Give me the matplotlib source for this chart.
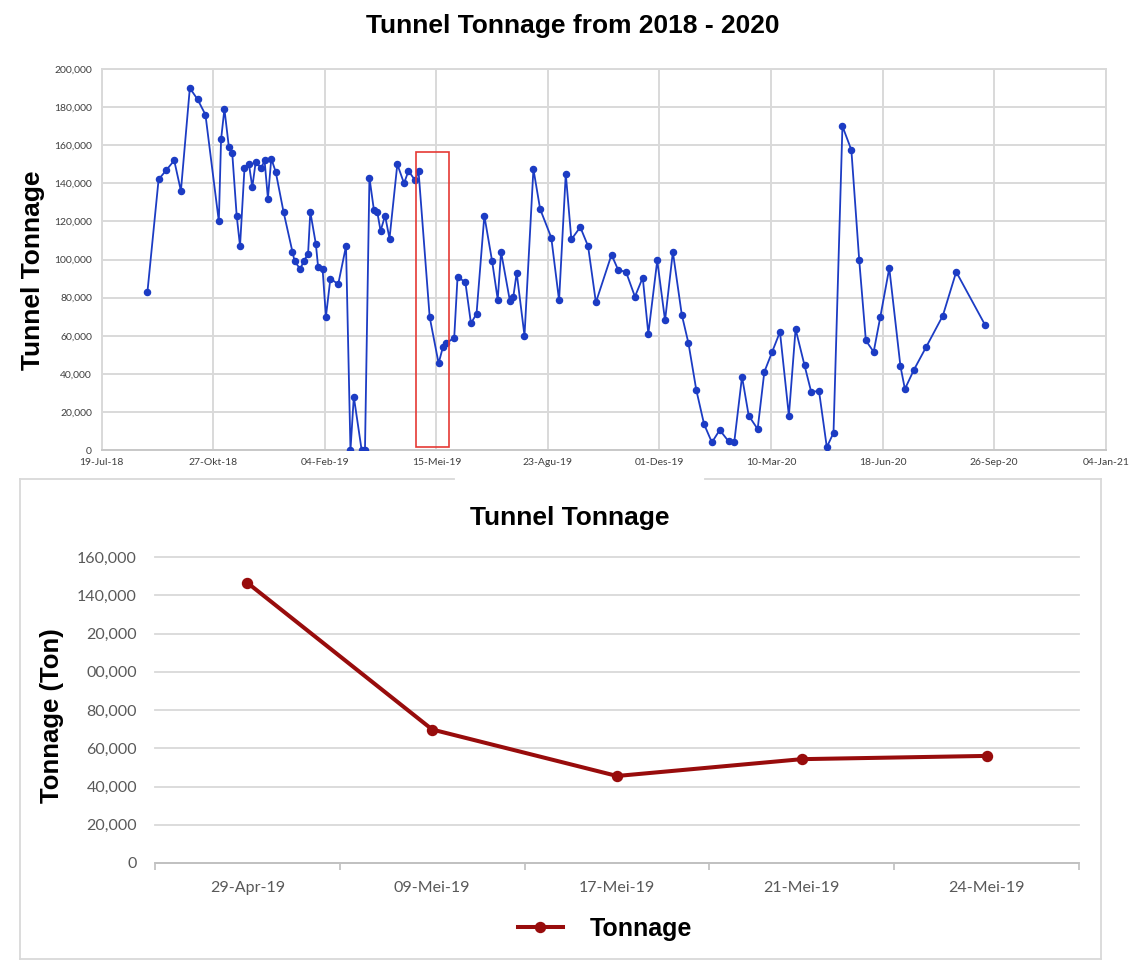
import pandas as pd
import numpy as np
import matplotlib
matplotlib.use("Agg")
import matplotlib.pyplot as plt
import matplotlib.dates as mdates
from matplotlib.ticker import FixedLocator, FixedFormatter, FuncFormatter, MultipleLocator
from matplotlib.patches import Rectangle
from matplotlib.lines import Line2D

# data grafik atas : hari sejak 19-Jul-18 dan tonase
mulai = pd.Timestamp("2018-07-19")
hari = [41, 51, 58, 65, 71, 79, 86, 93, 105, 107, 110, 114, 117, 121, 124, 128, 132, 135, 138, 143,
        146, 149, 152, 156, 163, 171, 173, 178, 181, 185, 187, 192, 194, 198, 201, 205, 212, 219, 223, 226,
        233, 236, 240, 244, 247, 250, 254, 258, 265, 271, 275, 281, 284, 294, 302, 306, 309, 316, 319, 326,
        331, 336, 343, 350, 355, 358, 366, 369, 372, 379, 387, 393, 403, 410, 416, 421, 429, 436, 443, 457,
        463, 470, 478, 485, 490, 498, 505, 512, 520, 526, 533, 540, 547, 554, 562, 567, 574, 580, 588, 594,
        601, 608, 616, 622, 630, 636, 643, 650, 656, 664, 672, 679, 685, 692, 698, 706, 716, 720, 728, 739,
        754, 766, 792]
tonase = [83000, 142000, 147000, 152000, 136000, 190000, 184000, 176000, 120000, 163000, 179000, 159000,
          156000, 123000, 107000, 148000, 150000, 138000, 151000, 148000, 152000, 132000, 153000, 146000,
          125000, 104000, 99000, 95000, 99000, 103000, 125000, 108000, 96000, 95000, 70000, 90000, 87000,
          107000, 0, 28000, 0, 0, 143000, 126000, 125000, 115000, 123000, 111000, 150000, 140000, 146500,
          141500, 146500, 69800, 45500, 54300, 56000, 59000, 91000, 88000, 66500, 71500, 123000, 99000,
          79000, 104000, 78000, 80500, 93000, 60000, 147500, 126500, 111500, 78500, 145000, 110500, 117000,
          107000, 77500, 102500, 94500, 93500, 80500, 90500, 61000, 99500, 68000, 104000, 71000, 56000,
          31500, 13500, 4000, 10500, 4500, 4000, 38500, 18000, 11000, 41000, 51500, 62000, 18000, 63500,
          44500, 30500, 31000, 1500, 9000, 170000, 157500, 100000, 57500, 51500, 70000, 95500, 44000, 32000,
          42000, 54000, 70500, 93500, 65500]

# data grafik bawah (detail 29 Apr - 24 Mei 2019)
detail_tgl = ["29-Apr-19", "09-Mei-19", "17-Mei-19", "21-Mei-19", "24-Mei-19"]
detail_tonase = [146500, 69800, 45500, 54300, 56000]
ylabel_bawah = ["0", "20,000", "40,000", "60,000", "80,000", "00,000", "20,000", "140,000", "160,000"]

bulan = {1: "Jan", 2: "Feb", 3: "Mar", 4: "Apr", 5: "Mei", 6: "Jun",
         7: "Jul", 8: "Agu", 9: "Sep", 10: "Okt", 11: "Nov", 12: "Des"}

biru, merah, abu = "#1c3cc4", "#980c0c", "#d9d9d9"
judul_font = ["Liberation Sans", "DejaVu Sans"]
tick_font = ["Lato", "DejaVu Sans"]

W, H = 1129, 976
def kotak(l, t, r, b):
    return [l / W, 1 - b / H, (r - l) / W, (b - t) / H]

fig = plt.figure(figsize=(W / 100, H / 100), dpi=100)

# ---- grafik atas
tgl = mulai + pd.to_timedelta(hari, unit="D")
ax1 = fig.add_axes(kotak(101.7, 69, 1105.7, 450))
ax1.plot(tgl.to_numpy(), tonase, color=biru, lw=1.3, marker="o", ms=4.4, zorder=3)
ax1.set_xlim(mulai, mulai + pd.Timedelta(days=900))
ax1.set_ylim(0, 200000)
ticks = mdates.date2num(pd.date_range(mulai, periods=10, freq="100D").to_pydatetime())
ax1.xaxis.set_major_locator(FixedLocator(ticks))
ax1.xaxis.set_major_formatter(FuncFormatter(
    lambda x, pos: "{:02d}-{}-{:02d}".format(mdates.num2date(x).day, bulan[mdates.num2date(x).month],
                                             mdates.num2date(x).year % 100)))
ax1.yaxis.set_major_locator(MultipleLocator(20000))
ax1.yaxis.set_major_formatter(FuncFormatter(lambda v, pos: f"{int(v):,}"))
ax1.grid(True, color=abu, lw=1.4)
for s in ax1.spines.values():
    s.set_color(abu)
    s.set_linewidth(1.4)
ax1.spines["bottom"].set_color("#c8c8c8")
ax1.tick_params(length=0, labelsize=7.5, labelcolor="#404040")
ax1.tick_params(axis="x", pad=6)
ax1.tick_params(axis="y", pad=7)
for t in ax1.get_xticklabels() + ax1.get_yticklabels():
    t.set_family(tick_font)
ax1.add_patch(Rectangle((mulai + pd.Timedelta(days=282), 1500), pd.Timedelta(days=29), 155000,
                        fill=False, edgecolor="#e53935", lw=1.2, zorder=4))
fig.text(573 / W, 1 - 25.5 / H, "Tunnel Tonnage from 2018 - 2020", ha="center", va="center",
         fontsize=19, fontweight="bold", family=judul_font)
fig.text(33 / W, 1 - 270 / H, "Tunnel Tonnage", rotation=90, ha="center", va="center",
         fontsize=19, fontweight="bold", family=judul_font)

# ---- grafik bawah
garis = [((20, 479), (20, 959)), ((20, 959), (1101, 959)), ((1101, 479), (1101, 959)),
         ((20, 479), (454, 479)), ((705, 479), (1101, 479))]
for (x0, y0), (x1, y1) in garis:
    fig.add_artist(Line2D([x0 / W, x1 / W], [1 - y0 / H, 1 - y1 / H], color=abu, lw=1.3))

ax2 = fig.add_axes(kotak(155, 557, 1079, 863))
x = np.arange(len(detail_tgl))
ax2.plot(x, detail_tonase, color=merah, lw=2.9, marker="o", ms=7.2, zorder=3)
ax2.set_xlim(-0.5, len(detail_tgl) - 0.5)
ax2.set_ylim(0, 160000)
ax2.set_xticks(x)
ax2.set_xticklabels(detail_tgl)
ax2.set_xticks(np.arange(-0.5, len(detail_tgl)), minor=True)
ax2.yaxis.set_major_locator(FixedLocator(np.arange(0, 160001, 20000)))
ax2.yaxis.set_major_formatter(FixedFormatter(ylabel_bawah))
ax2.grid(True, axis="y", color=abu, lw=1.3)
for g in ax2.get_ygridlines():
    g.set_clip_on(False)
for s in ["left", "right", "top"]:
    ax2.spines[s].set_visible(False)
ax2.spines["bottom"].set_color("#bfbfbf")
ax2.spines["bottom"].set_linewidth(1.3)
ax2.tick_params(axis="both", which="major", length=0, labelsize=11.5, labelcolor="#595959")
ax2.tick_params(axis="x", which="major", pad=13)
ax2.tick_params(axis="y", which="major", pad=13)
ax2.tick_params(axis="x", which="minor", length=5, width=1.2, color="#bfbfbf", direction="out")
for t in ax2.get_xticklabels() + ax2.get_yticklabels():
    t.set_family(tick_font)
fig.text(570 / W, 1 - 518 / H, "Tunnel Tonnage", ha="center", va="center",
         fontsize=19, fontweight="bold", family=judul_font)
fig.text(52 / W, 1 - 716 / H, "Tonnage (Ton)", rotation=90, ha="center", va="center",
         fontsize=18.5, fontweight="bold", family=judul_font)
h = Line2D([], [], color=merah, lw=2.9, marker="o", ms=7.2)
fig.legend([h], ["Tonnage"], loc="center", bbox_to_anchor=(605 / W, 1 - 929 / H), frameon=False,
           handlelength=1.8, handletextpad=1.1,
           prop={"family": judul_font, "weight": "bold", "size": 18})

fig.savefig("out.png", dpi=100)
